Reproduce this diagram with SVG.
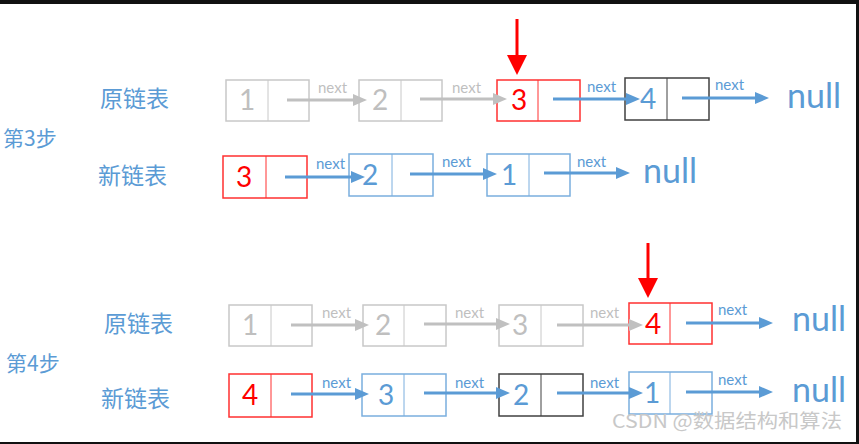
<svg xmlns="http://www.w3.org/2000/svg" width="859" height="444" viewBox="0 0 859 444">
<style>
  .box { fill: #ffffff; stroke-width: 1.5; }
  .gray { stroke: #c8c8c8; }
  .red { stroke: #ff3030; }
  .blue { stroke: #7aaede; }
  .black { stroke: #404040; }
  .dig { font-family: "Lato", "Liberation Sans", sans-serif; font-size: 28px; text-anchor: middle; }
  .tg { fill: #bfbfbf; }
  .tr { fill: #ff0000; }
  .tb { fill: #5b9bd5; }
  .nx { font-family: "Lato", "Liberation Sans", sans-serif; font-size: 15px; }
  .nul { font-family: "Lato", "Liberation Sans", sans-serif; font-size: 34px; fill: #5b9bd5; }
  .cn { font-family: "Noto Sans CJK SC", sans-serif; font-size: 23px; fill: #5b9bd5; }
  .ag { stroke: #c0c0c0; stroke-width: 3; fill: none; }
  .ab { stroke: #5b9bd5; stroke-width: 3; fill: none; }
  .ar { stroke: #ff0000; stroke-width: 3; fill: none; }
  .wm { font-family: "Noto Sans CJK SC", sans-serif; font-size: 19px; fill: #c8c8c8; }
</style>
<defs>
  <marker id="hg" markerUnits="userSpaceOnUse" markerWidth="14" markerHeight="12" refX="2" refY="6" orient="auto">
    <path d="M0,0 L14,6 L0,12 z" fill="#c0c0c0"/>
  </marker>
  <marker id="hb" markerUnits="userSpaceOnUse" markerWidth="14" markerHeight="12" refX="2" refY="6" orient="auto">
    <path d="M0,0 L14,6 L0,12 z" fill="#5b9bd5"/>
  </marker>
  <marker id="hr" markerUnits="userSpaceOnUse" markerWidth="20" markerHeight="20" refX="2" refY="10" orient="auto">
    <path d="M0,0 L20,10 L0,20 z" fill="#ff0000"/>
  </marker>
</defs>
<rect x="0" y="0" width="859" height="444" fill="#ffffff"/>
<rect x="0" y="0" width="859" height="4" fill="#111111"/>
<rect x="856" y="0" width="3" height="444" fill="#111111"/>
<rect x="0" y="442" width="859" height="2" fill="#111111"/>

<!-- labels -->
<g id="labels">
  <text class="cn" x="100" y="107">原链表</text>
  <text class="cn" x="98" y="184">新链表</text>
  <text class="cn" x="3" y="146" style="font-size:21px">第3步</text>
  <text class="cn" x="104" y="332">原链表</text>
  <text class="cn" x="6" y="371" style="font-size:21px">第4步</text>
  <text class="cn" x="101" y="407">新链表</text>
</g>

<!-- Step 3, original list -->
<g id="s3o1"><rect class="box gray" x="226" y="80" width="83" height="41"/><line class="gray" x1="268" y1="80" x2="268" y2="121"/><text class="dig tg" x="247" y="110">1</text></g>
<g id="s3o2"><rect class="box gray" x="359" y="80" width="83" height="41"/><line class="gray" x1="401" y1="80" x2="401" y2="121"/><text class="dig tg" x="380" y="110">2</text></g>
<g id="s3o3"><rect class="box red" x="497" y="80" width="83" height="41"/><line class="red" x1="538" y1="80" x2="538" y2="121"/><text class="dig tr" x="519" y="110">3</text></g>
<g id="s3o4"><rect class="box black" x="625" y="78" width="84" height="42"/><line class="black" x1="667" y1="78" x2="667" y2="120"/><text class="dig tb" x="648" y="109">4</text></g>
<g id="s3onull"><text class="nul" x="787" y="108">null</text></g>

<!-- Step 3, new list -->
<g id="s3n1"><rect class="box red" x="223" y="156" width="84" height="42"/><line class="red" x1="266" y1="156" x2="266" y2="198"/><text class="dig tr" x="244" y="187">3</text></g>
<g id="s3n2"><rect class="box blue" x="349" y="154" width="84" height="42"/><line class="blue" x1="392" y1="154" x2="392" y2="196"/><text class="dig tb" x="370" y="185">2</text></g>
<g id="s3n3"><rect class="box blue" x="487" y="154" width="83" height="42"/><line class="blue" x1="529" y1="154" x2="529" y2="196"/><text class="dig tb" x="509" y="185">1</text></g>
<g id="s3nnull"><text class="nul" x="643" y="183">null</text></g>

<!-- Step 4, original list -->
<g id="s4o1"><rect class="box gray" x="229" y="305" width="83" height="41"/><line class="gray" x1="271" y1="305" x2="271" y2="346"/><text class="dig tg" x="250" y="335">1</text></g>
<g id="s4o2"><rect class="box gray" x="363" y="305" width="83" height="41"/><line class="gray" x1="404" y1="305" x2="404" y2="346"/><text class="dig tg" x="383" y="335">2</text></g>
<g id="s4o3"><rect class="box gray" x="499" y="305" width="84" height="41"/><line class="gray" x1="541" y1="305" x2="541" y2="346"/><text class="dig tg" x="520" y="335">3</text></g>
<g id="s4o4"><rect class="box red" x="629" y="303" width="83" height="41"/><line class="red" x1="670" y1="303" x2="670" y2="344"/><text class="dig tr" x="653" y="334">4</text></g>
<g id="s4onull"><text class="nul" x="792" y="331">null</text></g>

<!-- Step 4, new list -->
<g id="s4n1"><rect class="box red" x="229" y="374" width="83" height="43"/><line class="red" x1="271" y1="374" x2="271" y2="417"/><text class="dig tr" x="250" y="405">4</text></g>
<g id="s4n2"><rect class="box blue" x="362" y="374" width="84" height="42"/><line class="blue" x1="404" y1="374" x2="404" y2="416"/><text class="dig tb" x="386" y="405">3</text></g>
<g id="s4n3"><rect class="box black" x="499" y="374" width="84" height="42"/><line class="black" x1="541" y1="374" x2="541" y2="416"/><text class="dig tb" x="521" y="405">2</text></g>
<g id="s4n4"><rect class="box blue" x="629" y="372" width="83" height="42"/><line class="blue" x1="670" y1="372" x2="670" y2="414"/><text class="dig tb" x="652" y="403">1</text></g>
<g id="s4nnull"><text class="nul" x="792" y="402">null</text></g>

<!-- connectors -->
<g id="connectors">
  <line class="ar" x1="517" y1="19" x2="517" y2="57" marker-end="url(#hr)"/>
  <line class="ar" x1="648" y1="243" x2="648" y2="280" marker-end="url(#hr)"/>

  <line class="ag" x1="287" y1="100" x2="355" y2="100" marker-end="url(#hg)"/>
  <line class="ag" x1="420" y1="99" x2="495" y2="99" marker-end="url(#hg)"/>
  <line class="ab" x1="553" y1="99" x2="628" y2="99" marker-end="url(#hb)"/>
  <line class="ab" x1="682" y1="98" x2="757" y2="98" marker-end="url(#hb)"/>

  <line class="ab" x1="285" y1="177" x2="353" y2="177" marker-end="url(#hb)"/>
  <line class="ab" x1="410" y1="174" x2="485" y2="174" marker-end="url(#hb)"/>
  <line class="ab" x1="544" y1="173" x2="618" y2="173" marker-end="url(#hb)"/>

  <line class="ag" x1="291" y1="325" x2="357" y2="325" marker-end="url(#hg)"/>
  <line class="ag" x1="424" y1="324" x2="498" y2="324" marker-end="url(#hg)"/>
  <line class="ag" x1="557" y1="325" x2="631" y2="325" marker-end="url(#hg)"/>
  <line class="ab" x1="686" y1="323" x2="761" y2="323" marker-end="url(#hb)"/>

  <line class="ab" x1="291" y1="394" x2="357" y2="394" marker-end="url(#hb)"/>
  <line class="ab" x1="424" y1="393" x2="498" y2="393" marker-end="url(#hb)"/>
  <line class="ab" x1="557" y1="393" x2="631" y2="393" marker-end="url(#hb)"/>
  <line class="ab" x1="686" y1="392" x2="761" y2="392" marker-end="url(#hb)"/>

  <text class="nx tg" x="318" y="93">next</text>
  <text class="nx tg" x="452" y="93">next</text>
  <text class="nx tb" x="587" y="92">next</text>
  <text class="nx tb" x="715" y="90">next</text>

  <text class="nx tb" x="316" y="169">next</text>
  <text class="nx tb" x="442" y="167">next</text>
  <text class="nx tb" x="577" y="167">next</text>

  <text class="nx tg" x="322" y="318">next</text>
  <text class="nx tg" x="455" y="318">next</text>
  <text class="nx tg" x="590" y="318">next</text>
  <text class="nx tb" x="718" y="315">next</text>

  <text class="nx tb" x="322" y="388">next</text>
  <text class="nx tb" x="455" y="388">next</text>
  <text class="nx tb" x="590" y="388">next</text>
  <text class="nx tb" x="718" y="385">next</text>
</g>

<text class="wm" x="612" y="428" textLength="230" lengthAdjust="spacingAndGlyphs">CSDN @数据结构和算法</text>
</svg>
